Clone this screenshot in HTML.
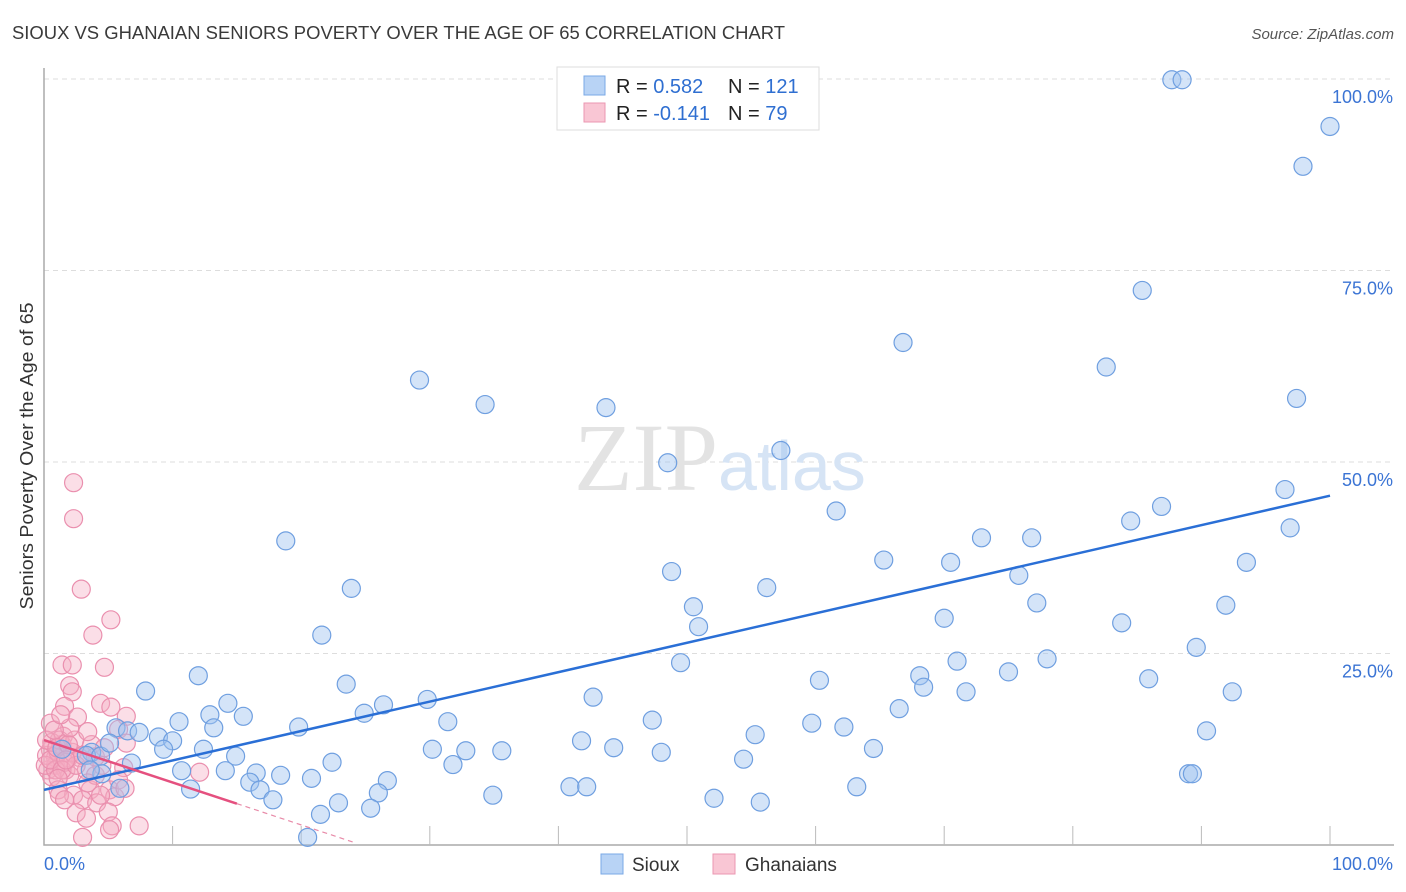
<!DOCTYPE html>
<html><head><meta charset="utf-8"><style>
body{margin:0;background:#fff;font-family:"Liberation Sans",sans-serif;}
svg{display:block}
</style></head><body>
<svg id="chart" width="1406" height="892">
<text x="12" y="39" font-size="18" fill="#3a3a3a" textLength="773" lengthAdjust="spacingAndGlyphs">SIOUX VS GHANAIAN SENIORS POVERTY OVER THE AGE OF 65 CORRELATION CHART</text>
<text x="1394" y="39" font-size="15" fill="#555" text-anchor="end" font-style="italic">Source: ZipAtlas.com</text>
<text transform="translate(33,456) rotate(-90)" font-size="18.5" fill="#333" text-anchor="middle" textLength="307" lengthAdjust="spacingAndGlyphs">Seniors Poverty Over the Age of 65</text>
<g id="grid"></g>
<text x="718" y="490" font-size="96" fill="#e3e3e3" text-anchor="end" font-family="Liberation Serif">ZIP</text>
<text x="718" y="490" font-size="70" fill="#d6e4f5">atlas</text>
<g id="pts"></g>
<g id="lines"></g>
<g>
<rect x="557" y="67" width="262" height="63" fill="#fff" stroke="#ddd"/>
<rect x="584" y="76" width="21" height="19" fill="#b8d3f5" stroke="#7aa8e6"/>
<rect x="584" y="103" width="21" height="19" fill="#f9c6d4" stroke="#eb97b2"/>
<text x="616" y="93" font-size="20" fill="#222">R = <tspan fill="#2f6fd1">0.582</tspan><tspan x="728">N = </tspan><tspan fill="#2f6fd1">121</tspan></text>
<text x="616" y="120" font-size="20" fill="#222">R = <tspan fill="#2f6fd1">-0.141</tspan><tspan x="728">N = </tspan><tspan fill="#2f6fd1"> 79</tspan></text>
</g>
<g>
<rect x="601" y="854" width="22" height="20" fill="#b8d3f5" stroke="#7aa8e6"/>
<text x="632" y="871" font-size="19" fill="#333">Sioux</text>
<rect x="713" y="854" width="22" height="20" fill="#f9c6d4" stroke="#eb97b2"/>
<text x="745" y="871" font-size="19" fill="#333">Ghanaians</text>
</g>
</svg>
<script>
const yTicks=[25,50,75,100];
const yTickLabels=["25.0%","50.0%","75.0%","100.0%"];
const xTickCount=10;
const siouxX=[87.7,88.5,100,97.9,85.4,66.8,82.6,97.4,29.2,34.3,43.7,57.3,48.5,61.6,86.9,84.5,96.5,96.9,18.8,72.9,76.8,65.3,70.5,93.5,48.8,75.8,23.9,56.2,77.2,50.5,91.9,70.0,50.9,83.8,21.6,89.6,49.5,71.0,78.0,75.0,12.0,68.1,68.4,71.7,60.3,85.9,23.5,7.9,92.4,42.7,14.3,26.4,29.8,66.5,10.5,12.9,15.5,24.9,19.8,31.4,47.3,59.7,62.2,13.2,5.6,6.5,7.4,90.4,8.9,10.0,41.8,55.3,64.5,30.2,32.8,35.6,44.3,48.0,9.3,12.4,3.7,3.3,14.9,6.8,31.8,54.4,22.4,10.7,14.1,16.5,18.4,20.8,16.0,26.7,4.5,89.0,89.3,40.9,42.2,63.2,5.9,11.4,16.8,17.8,34.9,26.0,52.1,55.7,22.9,25.4,21.5,20.5,4.4,1.4,5.1,3.6];
const siouxY=[99.9,99.9,93.8,88.6,72.4,65.6,62.4,58.3,60.7,57.5,57.1,51.5,49.9,43.6,44.2,42.3,46.4,41.4,39.7,40.1,40.1,37.2,36.9,36.9,35.7,35.2,33.5,33.6,31.6,31.1,31.3,29.6,28.5,29.0,27.4,25.8,23.8,24.0,24.3,22.6,22.1,22.1,20.6,20.0,21.5,21.7,21.0,20.1,20.0,19.3,18.5,18.3,19.0,17.8,16.1,17.0,16.8,17.2,15.4,16.1,16.3,15.9,15.4,15.3,15.3,14.9,14.7,14.9,14.1,13.6,13.6,14.4,12.6,12.5,12.3,12.3,12.7,12.1,12.5,12.5,12.1,11.7,11.6,10.7,10.5,11.2,10.8,9.7,9.7,9.4,9.1,8.7,8.2,8.4,9.3,9.3,9.3,7.6,7.6,7.6,7.4,7.3,7.2,5.9,6.5,6.8,6.1,5.6,5.5,4.8,4.0,1.0,11.6,12.5,13.3,9.8];
const ghanaX=[2.3,2.3,2.9,5.2,3.8,1.4,2.2,4.7,2.0,2.2,1.6,2.6,4.4,5.2,6.4,5.8,6.4,1.5,0.5,1.4,0.5,0.9,1.9,2.8,0.9,0.3,1.7,3.3,0.6,2.0,1.1,2.3,3.6,5.1,3.0,4.1,5.5,2.5,5.0,3.3,5.3,7.4,3.0,5.1,12.1,6.2,4.0,1.2,0.2,0.6,1.1,1.6,2.2,0.1,0.9,1.2,2.4,3.7,4.5,5.8,6.3,1.6,3.4,4.4,0.2,0.5,1.0,1.4,1.9,2.5,3.0,4.0,2.0,3.4,4.7,0.8,1.3,1.7,1.1];
const ghanaY=[47.3,42.6,33.4,29.4,27.4,23.5,23.5,23.2,20.8,20.0,18.1,16.7,18.5,18.0,16.8,15.1,13.3,14.2,15.9,13.1,12.4,11.4,11.4,11.4,10.4,9.8,9.8,9.8,8.9,9.1,7.2,6.5,7.2,7.2,5.9,5.5,6.3,4.2,4.3,3.5,2.5,2.5,1.0,2.0,9.5,10.1,9.1,6.5,11.7,13.4,12.1,10.8,12.1,10.4,9.8,13.7,13.7,13.1,10.4,8.5,7.4,5.9,8.1,6.5,13.7,11.1,12.7,9.8,13.1,10.4,11.7,11.5,15.3,14.8,12.7,15.0,17.0,11.1,8.7];
const siouxTrend=[[0,7.2],[100,45.6]];
const ghanaTrendSolid=[[0,13.7],[15,5.4]];
const ghanaTrendDash=[[15,5.4],[24,0.4]];

const X0=44,X1=1330,Y0=845,YTOP=79;
const sx=v=>X0+(X1-X0)*v/100;
const sy=v=>Y0-(Y0-YTOP)*v/100;
const NS="http://www.w3.org/2000/svg";
function mk(tag,attrs,parent){const e=document.createElementNS(NS,tag);for(const k in attrs)e.setAttribute(k,attrs[k]);parent.appendChild(e);return e;}
const grid=document.getElementById('grid');
yTicks.forEach((t,i)=>{
  const l=mk('line',{x1:X0,x2:1394,y1:sy(t),y2:sy(t),stroke:'#ddd','stroke-dasharray':'5,4'},grid);
  
  
  const tx=mk('text',{x:1393,y:sy(t)+24,'font-size':18,fill:'#3b74d4','text-anchor':'end'},grid);
  tx.textContent=yTickLabels[i];
  
  
});
const ax=mk('path',{d:`M${X0},68V${Y0}H${X1+64}`,stroke:'#aaa',fill:'none','stroke-width':1.5},grid);


for(let i=1;i<=xTickCount;i++){
  const t=mk('line',{x1:sx(i*10),x2:sx(i*10),y1:826,y2:Y0,stroke:'#bbb'},grid);
  
  
}
const xl0=mk('text',{x:44,y:870,'font-size':18,fill:'#3b74d4'},grid);xl0.textContent='0.0%';


const xl1=mk('text',{x:1393,y:870,'font-size':18,fill:'#3b74d4','text-anchor':'end'},grid);xl1.textContent='100.0%';


const pts=document.getElementById('pts');
ghanaX.forEach((x,i)=>{
  const c=mk('circle',{cx:sx(x),cy:sy(ghanaY[i]),r:9,fill:'rgba(246,172,194,0.4)',stroke:'#ea8fae','stroke-width':1.2},pts);
  
  
});
siouxX.forEach((x,i)=>{
  const c=mk('circle',{cx:sx(x),cy:sy(siouxY[i]),r:9,fill:'rgba(160,196,240,0.45)',stroke:'#6f9fe0','stroke-width':1.2},pts);
  
  
});
const lines=document.getElementById('lines');
const b=mk('line',{x1:sx(siouxTrend[0][0]),y1:sy(siouxTrend[0][1]),x2:sx(siouxTrend[1][0]),y2:sy(siouxTrend[1][1]),stroke:'#2a6fd6','stroke-width':2.5},lines);


const p=mk('line',{x1:sx(ghanaTrendSolid[0][0]),y1:sy(ghanaTrendSolid[0][1]),x2:sx(ghanaTrendSolid[1][0]),y2:sy(ghanaTrendSolid[1][1]),stroke:'#e5507f','stroke-width':2.5},lines);


const pd=mk('line',{x1:sx(ghanaTrendDash[0][0]),y1:sy(ghanaTrendDash[0][1]),x2:sx(ghanaTrendDash[1][0]),y2:sy(ghanaTrendDash[1][1]),stroke:'#e88aa8','stroke-width':1.2,'stroke-dasharray':'5,4'},lines);


</script>
</body></html>
